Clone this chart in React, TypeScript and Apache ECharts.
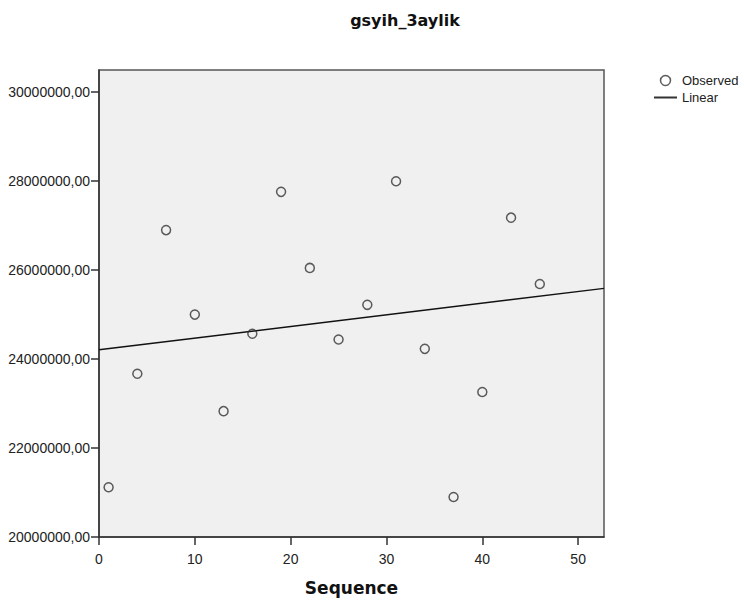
import React, { useEffect, useRef } from "react";
import * as echarts from "echarts";

const title = "gsyih_3aylik";
const xName = "Sequence";
const seqValues = [1, 4, 7, 10, 13, 16, 19, 22, 25, 28, 31, 34, 37, 40, 43, 46];
const observedValues = [
  21120000, 23670000, 26900000, 25000000, 22830000, 24570000, 27760000, 26050000,
  24440000, 25220000, 28000000, 24230000, 20900000, 23260000, 27180000, 25690000,
];
const fitX = [0, 52.7];
const fitY = [24210000, 25590000];
const yTicks = [20000000, 22000000, 24000000, 26000000, 28000000, 30000000];
const xTicks = [0, 10, 20, 30, 40, 50];

export default function App() {
  const ref = useRef<HTMLDivElement>(null);
  useEffect(() => {
    document.body.style.margin = "0";
    const chart = echarts.init(ref.current!, null, { renderer: "svg" });
    const axisColor = "#333";
    chart.setOption({
      animation: false,
      backgroundColor: "#ffffff",
      title: {
        text: title,
        left: 400,
        top: 7,
        textAlign: "center",
        textStyle: { fontFamily: "DejaVu Sans", fontWeight: "bold", fontSize: 16, color: "#111" },
      },
      legend: {
        orient: "vertical",
        left: 653,
        top: 74,
        padding: 0,
        itemWidth: 23,
        itemHeight: 10,
        itemGap: 4,
        textStyle: { fontFamily: "Liberation Sans", fontSize: 13, color: "#222" },
        data: [
          {
            name: "Observed",
            icon: "circle",
            itemStyle: { color: "transparent", borderColor: "#333", borderWidth: 1.5 },
          },
          {
            name: "Linear",
            itemStyle: { opacity: 0, color: "transparent", borderWidth: 0 },
            lineStyle: { color: "#333", width: 2, opacity: 1 },
          },
        ],
      },
      grid: {
        left: 99,
        top: 70,
        width: 505,
        height: 467,
        show: true,
        backgroundColor: "#f0f0f0",
        borderColor: "#555",
        borderWidth: 1.5,
      },
      xAxis: {
        type: "value",
        min: 0,
        max: 52.7,
        interval: 10,
        name: xName,
        nameLocation: "middle",
        nameGap: 42,
        nameTextStyle: { fontFamily: "DejaVu Sans", fontWeight: "bold", fontSize: 17, color: "#111" },
        splitLine: { show: false },
        axisLine: { lineStyle: { color: axisColor, width: 1.5 } },
        axisTick: { length: 8, lineStyle: { color: axisColor, width: 1.5 }, customValues: xTicks },
        axisLabel: {
          customValues: xTicks,
          margin: 15,
          fontFamily: "Liberation Sans",
          fontSize: 14,
          color: "#222",
        },
      },
      yAxis: {
        type: "value",
        min: 20000000,
        max: 30500000,
        interval: 2000000,
        splitLine: { show: false },
        axisLine: { lineStyle: { color: axisColor, width: 1.5 } },
        axisTick: { length: 8, lineStyle: { color: axisColor, width: 1.5 }, customValues: yTicks },
        axisLabel: {
          customValues: yTicks,
          margin: 9,
          fontFamily: "Liberation Sans",
          fontSize: 14,
          color: "#222",
          formatter: (v: number) => v.toFixed(2).replace(".", ","),
        },
      },
      series: [
        {
          name: "Linear",
          type: "line",
          data: fitX.map((x, i) => [x, fitY[i]]),
          symbol: "none",
          lineStyle: { color: "#111", width: 1.5 },
          itemStyle: { color: "#333" },
          z: 2,
        },
        {
          name: "Observed",
          type: "scatter",
          data: seqValues.map((x, i) => [x, observedValues[i]]),
          symbol: "circle",
          symbolSize: 9,
          itemStyle: { color: "rgba(0,0,0,0)", borderColor: "#333", borderWidth: 1.5 },
          z: 3,
        },
      ],
    });
    return () => chart.dispose();
  }, []);
  return <div ref={ref} style={{ width: 744, height: 604 }} />;
}
